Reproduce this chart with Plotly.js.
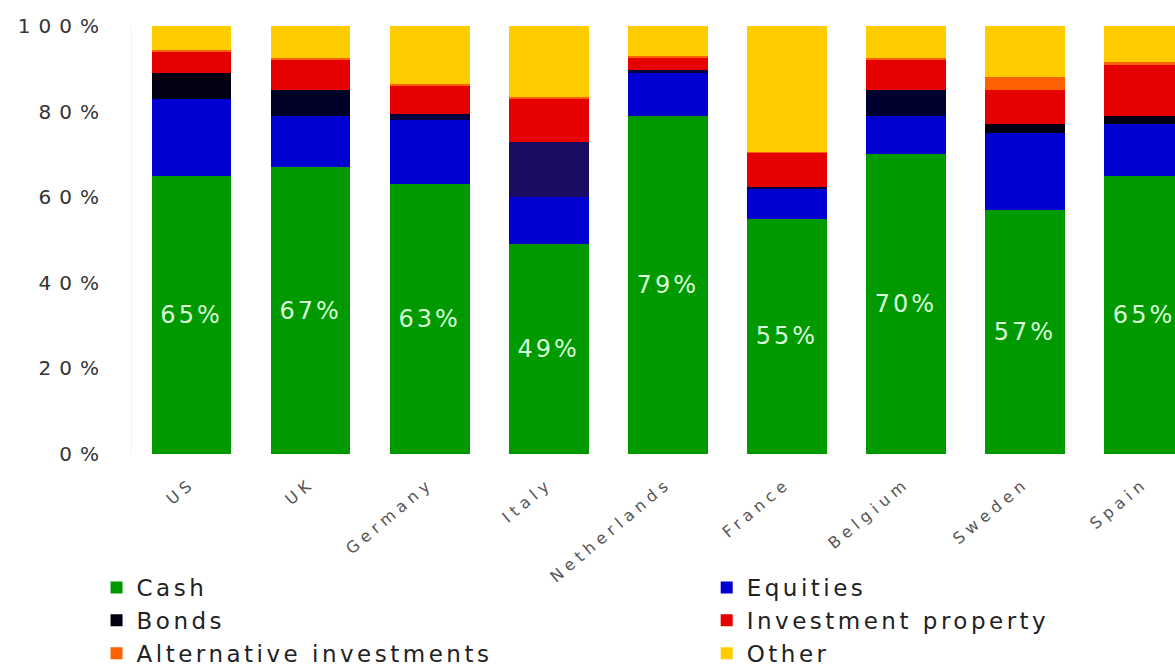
<!DOCTYPE html>
<html>
<head>
<meta charset="utf-8">
<script src="https://cdn.plot.ly/plotly-3.0.1.min.js"></script>
<style>
html,body{margin:0;padding:0;background:#fff;}
#chart{width:1175px;height:670px;}
/* the reference's lettering is horizontally stretched; widen it with letter spacing */
text[style*="font-size: 20px"]{letter-spacing:8px;}
text[style*="font-size: 16px"]{letter-spacing:5px;}
text[style*="font-size: 23px"]{letter-spacing:3.5px;}
text[style*="font-size: 24px"]{letter-spacing:3px;}
</style>
</head>
<body>
<div id="chart"></div>
<script>
const countries = ["US","UK","Germany","Italy","Netherlands","France","Belgium","Sweden","Spain"];
const cash        = [65, 67, 63, 49, 79, 55, 70, 57, 65];
const equities    = [18, 12, 15, 11, 10, 7, 9, 18, 12];
const bonds       = [6, 6, 1.5, 13, 0.8, 0.3, 6, 2, 2];
const invProperty = [5, 7, 6.5, 10, 2.7, 8, 7, 8, 12];
const alternative = [0.5, 0.5, 0.5, 0.5, 0.5, 0.3, 0.5, 3, 0.7];
const other       = [5.5, 7.5, 13.5, 16.5, 7, 29.4, 7.5, 12, 8.3];
const yTicks = [0, 20, 40, 60, 80, 100];

const seriesNames = ["Cash","Equities","Bonds","Investment property","Alternative investments","Other"];
const seriesVals = [cash, equities, bonds, invProperty, alternative, other];
const seriesLegend = ["legend","legend2","legend","legend2","legend","legend2"];
const colors = ["#009900","#0000d0","#000022","#e60000","#ff6000","#ffcc00"];
// per-bar shade of the bonds band (Italy's reads as a dark blue-violet)
const bondsShades = ["#000010","#000028","#000040","#1a0c62","#000040","#000040","#000030","#000012","#000012"];

const FONT = "DejaVu Sans, Liberation Sans, Arial, sans-serif";

const traces = seriesVals.map((vals, i) => {
  const t = {
    type: "bar",
    name: seriesNames[i],
    legend: seriesLegend[i],
    x: countries,
    y: vals,
    marker: {color: i === 2 ? bondsShades : colors[i], line: {width: 0}},
    hoverinfo: "x+y+name"
  };
  if (i === 0) {
    t.text = vals.map(v => v + "%");
    t.textposition = "inside";
    t.insidetextanchor = "middle";
    t.textangle = 0;
    t.textfont = {color: "#d8ffd8", size: 24, family: FONT};
    t.constraintext = "none";
  } else {
    t.textposition = "none";
  }
  return t;
});

const legendCommon = {
  orientation: "v",
  yanchor: "top",
  y: 0.1615,
  xanchor: "left",
  traceorder: "normal",
  font: {size: 23, color: "#222", family: FONT},
  itemwidth: 30,
  bgcolor: "rgba(0,0,0,0)"
};

const layout = {
  width: 1175,
  height: 670,
  barmode: "stack",
  bargap: 0.33,
  paper_bgcolor: "#ffffff",
  plot_bgcolor: "#ffffff",
  font: {family: FONT, color: "#444"},
  margin: {l: 132, r: 0, t: 26, b: 0, autoexpand: false},
  showlegend: true,
  xaxis: {
    type: "category",
    range: [-0.5, 8.26],
    tickangle: -40,
    tickfont: {size: 16, color: "#555", family: FONT},
    ticklabelstandoff: 16,
    showgrid: false,
    showline: false,
    ticks: "",
    zeroline: false,
    automargin: false,
    fixedrange: true
  },
  yaxis: {
    domain: [216 / 644, 1],
    range: [0, 100],
    tickvals: yTicks,
    ticktext: yTicks.map(v => v + "%"),
    tickfont: {size: 20, color: "#333", family: FONT},
    ticklabelstandoff: 20,
    showgrid: false,
    zeroline: false,
    showline: true,
    linecolor: "#f3eef3",
    linewidth: 1,
    ticks: "",
    automargin: false,
    fixedrange: true
  },
  legend: Object.assign({}, legendCommon, {x: -0.034}),
  legend2: Object.assign({}, legendCommon, {x: 0.551})
};

Plotly.newPlot("chart", traces, layout, {displayModeBar: false, staticPlot: true});
</script>
</body>
</html>
